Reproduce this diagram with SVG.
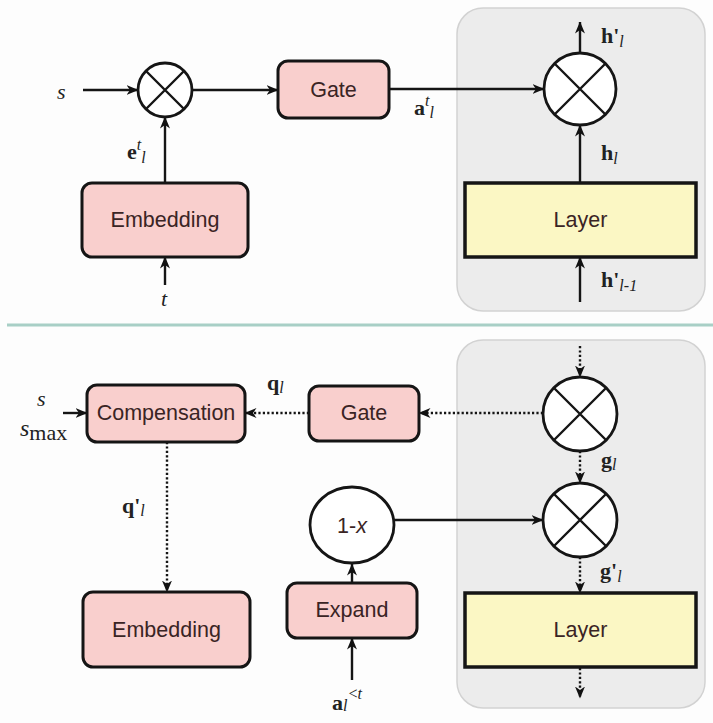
<svg xmlns="http://www.w3.org/2000/svg" width="713" height="723" viewBox="0 0 713 723">
<defs>
<marker id="ah" viewBox="0 0 12 10" refX="11.5" refY="5" markerWidth="12" markerHeight="10" markerUnits="userSpaceOnUse" orient="auto">
<path d="M0,0 L12,5 L0,10 L3.5,5 z" fill="#111"/>
</marker>
<style>
.panel{fill:#ececec;stroke:#d2d2d2;stroke-width:1.5}
.box{fill:#f9cfcd;stroke:#151515;stroke-width:3}
.layer{fill:#fbf7c4;stroke:#151515;stroke-width:3.5}
.op{fill:#fff;stroke:#151515;stroke-width:2.8}
.lbl{font-family:"Liberation Sans",Arial,sans-serif;font-size:21.5px;fill:#3a2424;text-anchor:middle}
.m{font-family:"Liberation Serif","Times New Roman",serif;font-size:22px;fill:#222}
.b{font-weight:bold}
.i{font-style:italic}
.sm{font-size:16px}
.c{fill:none;stroke:#151515;stroke-width:2.4}
.solid{marker-end:url(#ah)}
.dot{stroke-dasharray:2.2 2.2;marker-end:url(#ah)}
</style>
</defs>
<rect width="713" height="723" fill="#fdfdfd"/>

<!-- panels and separator -->
<rect class="panel" x="457" y="8" width="248" height="303" rx="26"/>
<rect class="panel" x="457" y="340" width="248" height="368" rx="26"/>
<line x1="7" y1="325" x2="713" y2="325" stroke="#a8cfc6" stroke-width="3"/>

<!-- connectors -->
<g id="connectors">
<line class="c solid" x1="83" y1="90" x2="138" y2="90"/>
<line class="c solid" x1="192" y1="90" x2="278" y2="90"/>
<line class="c solid" x1="165" y1="183" x2="165" y2="117"/>
<line class="c solid" x1="165" y1="285" x2="165" y2="257"/>
<line class="c solid" x1="389" y1="89" x2="544" y2="89"/>
<line class="c solid" x1="580" y1="53" x2="580" y2="22"/>
<line class="c solid" x1="580" y1="183" x2="580" y2="125"/>
<line class="c solid" x1="580" y1="302" x2="580" y2="257"/>

<line class="c dot" x1="580" y1="346" x2="580" y2="377"/>
<line class="c dot" x1="543" y1="413" x2="419" y2="413"/>
<line class="c dot" x1="309" y1="413" x2="245" y2="413"/>
<line class="c solid" x1="63" y1="413" x2="87" y2="413"/>
<line class="c dot" x1="167" y1="442" x2="167" y2="592"/>
<line class="c dot" x1="580" y1="451" x2="580" y2="483"/>
<line class="c solid" x1="394" y1="520" x2="543" y2="520"/>
<line class="c dot" x1="580" y1="557" x2="580" y2="593"/>
<line class="c dot" x1="580" y1="668" x2="580" y2="698"/>
<line class="c solid" x1="352" y1="583" x2="352" y2="564"/>
<line class="c solid" x1="352" y1="680" x2="352" y2="638"/>
</g>

<!-- top nodes -->
<g id="mul-top-left">
<circle class="op" cx="165" cy="90" r="27"/>
<path class="c" d="M146,71 L184,109 M184,71 L146,109"/>
</g>
<g id="gate-top">
<rect class="box" x="278" y="61" width="111" height="57" rx="10"/>
<text class="lbl" x="333.5" y="97">Gate</text>
</g>
<g id="embedding-top">
<rect class="box" x="82" y="183" width="166" height="74" rx="10"/>
<text class="lbl" x="165" y="227">Embedding</text>
</g>
<g id="mul-top-right">
<circle class="op" cx="580" cy="89" r="36"/>
<path class="c" d="M554.5,63.5 L605.5,114.5 M605.5,63.5 L554.5,114.5"/>
</g>
<g id="layer-top">
<rect class="layer" x="465" y="183" width="231" height="74"/>
<text class="lbl" x="580.5" y="227">Layer</text>
</g>

<!-- top labels -->
<text class="m i" x="57" y="99" font-size="24">s</text>
<text class="m" x="127" y="159"><tspan class="b">e</tspan><tspan class="i sm" dy="-9">t</tspan><tspan class="i sm" dy="13">l</tspan></text>
<text class="m i" x="161" y="306" font-size="24">t</text>
<text class="m" x="414" y="115"><tspan class="b">a</tspan><tspan class="i sm" dy="-9">t</tspan><tspan class="i sm" dy="12">l</tspan></text>
<text class="m b" x="601" y="43">h'<tspan class="i sm" dy="4" font-weight="normal">l</tspan></text>
<text class="m b" x="601" y="160">h<tspan class="i sm" dy="4" font-weight="normal">l</tspan></text>
<text class="m b" x="601" y="287">h'<tspan class="i sm" dy="4" font-weight="normal">l-1</tspan></text>

<!-- bottom nodes -->
<g id="compensation">
<rect class="box" x="87" y="385" width="158" height="57" rx="10"/>
<text class="lbl" x="166" y="420">Compensation</text>
</g>
<g id="gate-bottom">
<rect class="box" x="309" y="386" width="110" height="55" rx="10"/>
<text class="lbl" x="364" y="420">Gate</text>
</g>
<g id="embedding-bottom">
<rect class="box" x="83" y="592" width="167" height="75" rx="10"/>
<text class="lbl" x="166.5" y="637">Embedding</text>
</g>
<g id="one-minus-x">
<ellipse class="op" cx="352" cy="525" rx="42" ry="38"/>
<text class="lbl" x="352" y="533">1-<tspan font-style="italic">x</tspan></text>
</g>
<g id="expand">
<rect class="box" x="287" y="583" width="130" height="55" rx="10"/>
<text class="lbl" x="352" y="617">Expand</text>
</g>
<g id="mul-bottom-1">
<circle class="op" cx="580" cy="414" r="37"/>
<path class="c" d="M554,388 L606,440 M606,388 L554,440"/>
</g>
<g id="mul-bottom-2">
<circle class="op" cx="580" cy="520" r="37"/>
<path class="c" d="M554,494 L606,546 M606,494 L554,546"/>
</g>
<g id="layer-bottom">
<rect class="layer" x="465" y="593" width="231" height="74"/>
<text class="lbl" x="580.5" y="637">Layer</text>
</g>

<!-- bottom labels -->
<text class="m i" x="37" y="406" font-size="24">s</text>
<text class="m" x="20" y="436"><tspan class="i" font-size="24">s</tspan><tspan dy="4">max</tspan></text>
<text class="m b" x="267" y="390">q<tspan class="i sm" dy="3" font-weight="normal">l</tspan></text>
<text class="m b" x="122" y="513">q'<tspan class="i sm" dy="3" font-weight="normal">l</tspan></text>
<text class="m b" x="601" y="467">g<tspan class="i sm" dy="3" font-weight="normal">l</tspan></text>
<text class="m b" x="600" y="578">g'<tspan class="i sm" dy="4" font-weight="normal">l</tspan></text>
<text class="m" x="332" y="710"><tspan class="b">a</tspan><tspan class="i sm" dy="1">l</tspan><tspan class="sm" dy="-12" dx="1">&lt;</tspan><tspan class="i sm">t</tspan></text>
</svg>
